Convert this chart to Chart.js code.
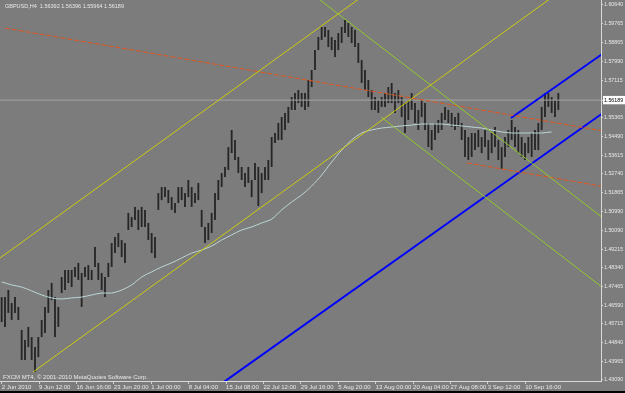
<!DOCTYPE html>
<html>
<head>
<meta charset="utf-8">
<script src="https://cdn.jsdelivr.net/npm/chart.js@4"></script>
<style>
    html, body { margin: 0; padding: 0; background: #000; }
    #wrap { width: 625px; height: 391px; background: #7c7c7c; }
</style>
</head>
<body>
<div id="wrap"><canvas id="fxChart" width="625" height="391"></canvas></div>
<script>
// GBPUSD H4, one bar here = roughly half a trading day
const highs = [
    1.4697, 1.4697, 1.4730, 1.4669, 1.4697, 1.4651, 1.4543, 1.4496, 1.4557, 1.4510,
    1.4463, 1.4510, 1.4590, 1.4651, 1.4730, 1.4763, 1.4697, 1.4651, 1.4791, 1.4824,
    1.4824, 1.4824, 1.4838, 1.4857, 1.4810, 1.4838, 1.4847, 1.4824, 1.4931, 1.4857,
    1.4810, 1.4791, 1.4857, 1.4950, 1.4978, 1.4997, 1.4964, 1.4950, 1.5091, 1.5072,
    1.5119, 1.5105, 1.5119, 1.5105, 1.5044, 1.4997, 1.4978, 1.5184, 1.5212, 1.5212,
    1.5198, 1.5165, 1.5137, 1.5212, 1.5212, 1.5184, 1.5245, 1.5212, 1.5184, 1.5231,
    1.5105, 1.5025, 1.5044, 1.5091, 1.5184, 1.5245, 1.5278, 1.5306, 1.5399, 1.5479,
    1.5432, 1.5353, 1.5306, 1.5278, 1.5306, 1.5245, 1.5325, 1.5306, 1.5278, 1.5306,
    1.5339, 1.5446, 1.5465, 1.5512, 1.5540, 1.5559, 1.5587, 1.5633, 1.5652, 1.5666,
    1.5652, 1.5652, 1.5713, 1.5760, 1.5853, 1.5914, 1.5961, 1.5961, 1.5947, 1.5914,
    1.5900, 1.5933, 1.5961, 1.5994, 1.5980, 1.5961, 1.5947, 1.5886, 1.5807, 1.5760,
    1.5713, 1.5666, 1.5633, 1.5619, 1.5633, 1.5652, 1.5680, 1.5699, 1.5652, 1.5666,
    1.5633, 1.5605, 1.5619, 1.5652, 1.5605, 1.5573, 1.5619, 1.5605, 1.5512, 1.5479,
    1.5512, 1.5526, 1.5559, 1.5587, 1.5573, 1.5559, 1.5540, 1.5559, 1.5512, 1.5479,
    1.5446, 1.5465, 1.5465, 1.5479, 1.5446, 1.5479, 1.5432, 1.5465, 1.5493, 1.5432,
    1.5399, 1.5446, 1.5479, 1.5526, 1.5493, 1.5479, 1.5446, 1.5418, 1.5446, 1.5465,
    1.5479, 1.5512, 1.5587, 1.5652, 1.5652, 1.5633, 1.5619, 1.5652
];
const lows = [
    1.4580, 1.4557, 1.4623, 1.4590, 1.4623, 1.4590, 1.4403, 1.4403, 1.4463, 1.4403,
    1.4346, 1.4416, 1.4510, 1.4529, 1.4623, 1.4683, 1.4510, 1.4557, 1.4716, 1.4730,
    1.4763, 1.4744, 1.4791, 1.4777, 1.4651, 1.4791, 1.4777, 1.4777, 1.4838, 1.4777,
    1.4730, 1.4697, 1.4791, 1.4838, 1.4903, 1.4931, 1.4884, 1.4857, 1.5011, 1.5025,
    1.5058, 1.5011, 1.5025, 1.5025, 1.4964, 1.4903, 1.4880, 1.5105, 1.5151, 1.5165,
    1.5137, 1.5105, 1.5091, 1.5137, 1.5151, 1.5119, 1.5165, 1.5119, 1.5137, 1.5151,
    1.5025, 1.4950, 1.4964, 1.4997, 1.5058, 1.5151, 1.5212, 1.5259, 1.5292, 1.5371,
    1.5339, 1.5278, 1.5245, 1.5212, 1.5231, 1.5165, 1.5245, 1.5123, 1.5184, 1.5245,
    1.5245, 1.5306, 1.5418, 1.5432, 1.5432, 1.5479, 1.5512, 1.5573, 1.5573, 1.5605,
    1.5587, 1.5573, 1.5587, 1.5680, 1.5760, 1.5853, 1.5900, 1.5914, 1.5867, 1.5853,
    1.5821, 1.5853, 1.5886, 1.5933, 1.5914, 1.5886, 1.5867, 1.5793, 1.5699, 1.5666,
    1.5633, 1.5573, 1.5573, 1.5559, 1.5587, 1.5587, 1.5605, 1.5605, 1.5559, 1.5605,
    1.5540, 1.5465, 1.5526, 1.5573, 1.5512, 1.5479, 1.5540, 1.5479, 1.5399, 1.5385,
    1.5432, 1.5465, 1.5479, 1.5526, 1.5512, 1.5493, 1.5479, 1.5493, 1.5432, 1.5353,
    1.5339, 1.5353, 1.5385, 1.5399, 1.5371, 1.5399, 1.5339, 1.5371, 1.5399, 1.5339,
    1.5297, 1.5353, 1.5399, 1.5432, 1.5399, 1.5371, 1.5353, 1.5339, 1.5371, 1.5353,
    1.5385, 1.5385, 1.5479, 1.5540, 1.5587, 1.5559, 1.5540, 1.5573
];

// moving average, one value every 3 bars
const MA_STEP = 3;
const maValues = [
    1.4768, 1.4754, 1.4744, 1.4726, 1.4707, 1.4693, 1.4688, 1.4693, 1.4697, 1.4707,
    1.4716, 1.4716, 1.4730, 1.4754, 1.4791, 1.4815, 1.4838, 1.4857, 1.4880, 1.4903,
    1.4917, 1.4936, 1.4964, 1.4988, 1.5011, 1.5025, 1.5044, 1.5062, 1.5105, 1.5142,
    1.5175, 1.5217, 1.5268, 1.5329, 1.5385, 1.5432, 1.5465, 1.5479, 1.5488, 1.5493,
    1.5498, 1.5502, 1.5507, 1.5507, 1.5507, 1.5502, 1.5498, 1.5493, 1.5488, 1.5479,
    1.5470, 1.5465, 1.5465, 1.5465, 1.5465, 1.5470
];

// trend lines: [bar, price] anchors
const yellowUpper = [[-2, 1.4863], [113.5, 1.6164]];
const yellowLower = [[9.4, 1.4346], [179.5, 1.6262]];
const greenUpper = [[94.0, 1.6106], [182.5, 1.5042]];
const greenLower = [[113.8, 1.5540], [182.5, 1.4715]];
const orangeUpper = [[1.0, 1.5956], [182.5, 1.5469]];
const orangeLower = [[139.6, 1.5325], [182.5, 1.5209]];
const blueUpper = [[152.8, 1.5535], [182.5, 1.5860]];
const blueLower = [[59.0, 1.4215], [182.5, 1.5582]];

const BID = 1.56189;
const headerText = "GBPUSD,H4  1.56392 1.56396 1.55964 1.56189";
const footerText = "FXCM MT4, \u00A9 2001-2010 MetaQuotes Software Corp.";

const priceTicks = [
    1.60640, 1.59765, 1.58865, 1.57990, 1.57115, BID, 1.55365, 1.54490, 1.53615,
    1.52740, 1.51865, 1.50990, 1.50090, 1.49215, 1.48340, 1.47465, 1.46590,
    1.45715, 1.44840, 1.43965, 1.43090
];
const dateLabels = [
    "2 Jun 2010", "9 Jun 12:00", "16 Jun 16:00", "23 Jun 20:00", "1 Jul 00:00",
    "8 Jul 04:00", "15 Jul 08:00", "22 Jul 12:00", "29 Jul 16:00", "5 Aug 20:00",
    "13 Aug 00:00", "20 Aug 04:00", "27 Aug 08:00", "3 Sep 12:00", "10 Sep 16:00"
];
const LABEL_EVERY = 11.22; // bars between date labels

const FONT = "'Liberation Sans', Arial, sans-serif";

function trend(points, color, width, dash) {
    return {
        type: 'line',
        data: points.map(p => ({ x: p[0], y: p[1] })),
        borderColor: color,
        borderWidth: width,
        borderDash: dash || [],
        pointRadius: 0,
        tension: 0,
        order: 1
    };
}

const captions = {
    id: 'captions',
    afterDraw(chart) {
        const ctx = chart.ctx;
        ctx.save();
        ctx.fillStyle = '#e8e8e8';
        ctx.textBaseline = 'middle';
        ctx.font = "5.5px " + FONT;
        ctx.fillText(headerText, 5, 6);
        ctx.font = "6px " + FONT;
        ctx.fillText(footerText, 3, 377);
        ctx.restore();
    }
};

new Chart(document.getElementById("fxChart"), {
    type: 'bar',
    data: {
        datasets: [
            {
                type: 'bar',
                data: highs.map((h, i) => ({ x: i, y: [lows[i], h] })),
                backgroundColor: '#262626',
                barPercentage: 1,
                categoryPercentage: 0.55,
                order: 5
            },
            {
                type: 'line',
                data: maValues.map((v, k) => ({ x: k * MA_STEP, y: v })),
                borderColor: '#bcd6d6',
                borderWidth: 1,
                pointRadius: 0,
                tension: 0.3,
                order: 2
            },
            {
                type: 'line',
                data: [{ x: -1, y: BID }, { x: 181, y: BID }],
                borderColor: '#a4a4a4',
                borderWidth: 1,
                pointRadius: 0,
                order: 3
            },
            trend(yellowUpper, '#cccc10', 1),
            trend(yellowLower, '#cccc10', 1),
            trend(greenUpper, '#92c82a', 1),
            trend(greenLower, '#92c82a', 1),
            trend(orangeUpper, '#e0541c', 1, [5, 2]),
            trend(orangeLower, '#e0541c', 1, [5, 2]),
            trend(blueUpper, '#0000ff', 2),
            trend(blueLower, '#0000ff', 2)
        ]
    },
    options: {
        responsive: false,
        animation: false,
        layout: { padding: 0 },
        plugins: { legend: { display: false }, tooltip: { enabled: false } },
        scales: {
            x: {
                type: 'linear',
                min: -0.5,
                max: 179.8,
                offset: false,
                grid: { drawOnChartArea: false, offset: false, tickLength: 3, color: '#d0d0d0' },
                border: { display: true, color: '#d8d8d8' },
                afterBuildTicks: scale => {
                    scale.ticks = dateLabels.map((_, k) => ({ value: k * LABEL_EVERY }));
                },
                afterFit: scale => {
                    scale.height = 10;
                    scale.paddingLeft = 0;
                    scale.paddingRight = 0;
                },
                ticks: {
                    autoSkip: false,
                    maxRotation: 0,
                    minRotation: 0,
                    align: 'start',
                    padding: 0,
                    color: '#e8e8e8',
                    font: { family: FONT, size: 6 },
                    callback: (value, index) => dateLabels[index]
                }
            },
            y: {
                type: 'linear',
                position: 'right',
                min: 1.43043,
                max: 1.60874,
                grid: { drawOnChartArea: false, tickLength: 2, color: '#d0d0d0' },
                border: { display: true, color: '#d8d8d8' },
                afterBuildTicks: scale => {
                    scale.ticks = priceTicks.map(v => ({ value: v }));
                },
                afterFit: scale => {
                    scale.width = 24;
                    scale.paddingTop = 0;
                    scale.paddingBottom = 0;
                },
                ticks: {
                    padding: 1,
                    font: { family: FONT, size: 5.3 },
                    color: c => (c.tick && c.tick.value === BID) ? '#000000' : '#e8e8e8',
                    showLabelBackdrop: c => !!(c.tick && c.tick.value === BID),
                    backdropColor: '#ffffff',
                    backdropPadding: { top: 1, bottom: 1, left: 1, right: 2 },
                    callback: value => value.toFixed(5)
                }
            }
        }
    },
    plugins: [captions]
});
</script>
</body>
</html>
